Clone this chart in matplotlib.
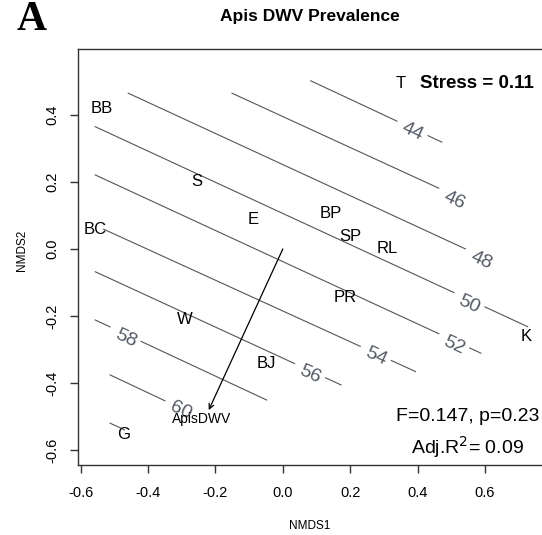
#!/usr/bin/env python3
"""NMDS ordination of sites with a fitted Apis DWV prevalence surface."""

import numpy as np
import matplotlib
matplotlib.use("Agg")
import matplotlib.pyplot as plt

# site scores (NMDS1, NMDS2)
site_names = ["BB", "S", "E", "BP", "SP", "RL", "BC", "PR", "W", "K", "BJ", "G", "T"]
site_x = [-0.537, -0.256, -0.088, 0.142, 0.199, 0.310, -0.557, 0.186, -0.292, 0.724, -0.048, -0.473, 0.350]
site_y = [0.420, 0.201, 0.087, 0.107, 0.037, 0.002, 0.059, -0.145, -0.212, -0.262, -0.341, -0.553, 0.495]

# fitted vector for DWV prevalence
vec_name = "ApisDWV"
vec_x, vec_y = -0.220, -0.481
vec_label_x, vec_label_y = -0.240, -0.509

# surface contours: level, segment start/end, label position
levels = [44, 46, 48, 50, 52, 54, 56, 58, 60]
c_x0 = [0.083, -0.151, -0.459, -0.557, -0.557, -0.532, -0.557, -0.557, -0.513]
c_y0 = [0.502, 0.465, 0.465, 0.365, 0.221, 0.059, -0.068, -0.212, -0.376]
c_x1 = [0.472, 0.464, 0.549, 0.727, 0.588, 0.394, 0.173, -0.048, -0.344]
c_y1 = [0.319, 0.181, -0.003, -0.232, -0.311, -0.366, -0.406, -0.451, -0.456]
lab_x = [0.385, 0.509, 0.588, 0.554, 0.509, 0.276, 0.081, -0.467, -0.304]
lab_y = [0.350, 0.146, -0.033, -0.167, -0.287, -0.321, -0.376, -0.267, -0.481]
# short unlabelled piece of the next contour near G
stub_x = [-0.513, -0.470]
stub_y = [-0.520, -0.540]

stress = 0.11
f_stat, p_val, adj_r2 = 0.147, 0.23, 0.09

SANS = "Liberation Sans"
LINE_COL = "#555555"
LAB_COL = "#555a66"
GAP = 0.046  # half-width of the break left around a contour label


def line_y(x, x0, y0, x1, y1):
    return y0 + (y1 - y0) * (x - x0) / (x1 - x0)


def main():
    fig = plt.figure(figsize=(5.42, 5.35), dpi=100)
    ax = fig.add_axes([0.1434, 0.1308, 0.860, 0.777])
    ax.set_xlim(-0.609, 0.775)
    ax.set_ylim(-0.645, 0.596)

    for s in ["top", "left", "bottom", "right"]:
        ax.spines[s].set_linewidth(1.0)
        ax.spines[s].set_color("#333333")

    ax.set_xticks([-0.6, -0.4, -0.2, 0.0, 0.2, 0.4, 0.6])
    ax.set_yticks([-0.6, -0.4, -0.2, 0.0, 0.2, 0.4])
    ax.set_xticklabels([f"{v:.1f}" for v in ax.get_xticks()], fontfamily=SANS, fontsize=10.5)
    ax.set_yticklabels([f"{v:.1f}" for v in ax.get_yticks()], fontfamily=SANS, fontsize=10.5,
                       rotation=90, va="center")
    ax.tick_params(length=6, width=1.0, color="#333333")
    ax.tick_params(axis="x", pad=9)
    ax.tick_params(axis="y", pad=7)

    fig.text(310 / 542, 1 - 526 / 535, "NMDS1", ha="center", va="center",
             fontfamily=SANS, fontsize=8.5)
    fig.text(21.7 / 542, 1 - 250 / 535, "NMDS2", ha="center", va="center",
             rotation=90, fontfamily=SANS, fontsize=8.5)

    # contour lines, broken where the label sits
    fig.canvas.draw()
    for lev, x0, y0, x1, y1, lx, ly in zip(levels, c_x0, c_y0, c_x1, c_y1, lab_x, lab_y):
        a_end = min(x1, lx - GAP)
        if a_end > x0:
            ax.plot([x0, a_end], [y0, line_y(a_end, x0, y0, x1, y1)],
                    color=LINE_COL, lw=0.8, zorder=1)
        if lx + GAP < x1:
            b0 = lx + GAP
            ax.plot([b0, x1], [line_y(b0, x0, y0, x1, y1), y1],
                    color=LINE_COL, lw=0.8, zorder=1)
        p0 = ax.transData.transform((x0, y0))
        p1 = ax.transData.transform((x1, y1))
        ang = np.degrees(np.arctan2(p1[1] - p0[1], p1[0] - p0[0]))
        ax.text(lx, ly, str(lev), rotation=ang, rotation_mode="anchor",
                ha="center", va="center", fontfamily=SANS, fontsize=14,
                color=LAB_COL, zorder=2)
    ax.plot(stub_x, stub_y, color=LINE_COL, lw=0.8, zorder=1)

    # site labels
    for name, x, y in zip(site_names, site_x, site_y):
        ax.text(x, y, name, ha="center", va="center", fontfamily=SANS,
                fontsize=12, color="black", zorder=3)

    # fitted vector
    ax.annotate("", xy=(vec_x, vec_y), xytext=(0, 0),
                arrowprops=dict(arrowstyle="->", color="black", lw=0.9,
                                shrinkA=0, shrinkB=0, mutation_scale=9),
                zorder=3)
    ax.text(vec_label_x, vec_label_y, vec_name, ha="center", va="center",
            fontfamily=SANS, fontsize=10, color="black", zorder=4)

    ax.text(0.575, 0.495, f"Stress = {stress:.2f}", ha="center", va="center",
            fontfamily=SANS, fontsize=13.5, fontweight="bold", zorder=3)
    ax.text(0.549, -0.501, f"F={f_stat}, p={p_val}", ha="center", va="center",
            fontfamily=SANS, fontsize=14, zorder=3)
    ax.text(0.549, -0.590, f"Adj.R$^2$= {adj_r2:.2f}", ha="center", va="center",
            fontfamily=SANS, fontsize=14, zorder=3)

    fig.text(310 / 542, 1 - 17 / 535, "Apis DWV Prevalence", ha="center", va="center",
             fontfamily=SANS, fontsize=12.5, fontweight="bold")
    fig.text(32 / 542, 1 - 20 / 535, "A", ha="center", va="center",
             fontfamily="Liberation Serif", fontsize=30, fontweight="bold")

    fig.savefig("out.png", dpi=100)


if __name__ == "__main__":
    main()
